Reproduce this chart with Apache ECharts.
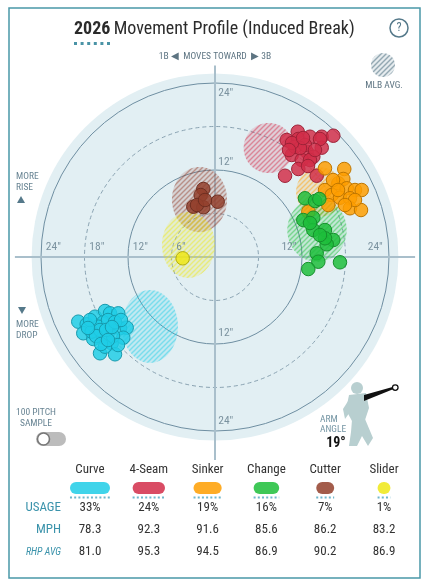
<!DOCTYPE html>
<html><head><meta charset="utf-8">
<script src="https://cdn.jsdelivr.net/npm/echarts@6/dist/echarts.min.js"></script>
<style>html,body{margin:0;padding:0;background:#fff}#c{width:433px;height:588px}</style>
</head><body><div id="c"></div>
<script>
// ---------- data ----------
const pitchTypes = ['Curve', '4-Seam', 'Sinker', 'Change', 'Cutter', 'Slider'];
const pitchColors = ['#1fcde6', '#d22d49', '#fe9d00', '#1dbe3a', '#933f2c', '#eee716'];
const usagePct = [33, 24, 19, 16, 7, 1];
const mphValues = ['78.3', '92.3', '91.6', '85.6', '86.2', '83.2'];
const rhpAvgValues = ['81.0', '95.3', '94.5', '86.9', '90.2', '86.9'];
const armAngle = 19;

// horizontal break (in), induced vertical break (in)
const curveBreak = [[-18.86,-8.92],[-17.70,-9.28],[-18.17,-10.52],[-16.55,-8.23],[-15.17,-7.45],[-14.48,-7.77],[-13.34,-7.77],[-15.41,-9.01],[-16.10,-9.61],[-14.48,-10.07],[-13.10,-9.83],[-12.18,-9.75],[-16.79,-11.31],[-15.41,-11.13],[-14.25,-11.90],[-12.65,-11.13],[-15.86,-13.28],[-13.79,-13.42],[-15.17,-12.37],[-17.01,-10.30],[-15.86,-10.07],[-14.76,-8.69],[-14.07,-10.90],[-16.41,-10.90],[-15.03,-10.07],[-13.79,-8.97],[-17.24,-8.69],[-15.72,-12.00],[-13.38,-12.14],[-14.76,-11.45],[-17.52,-9.79],[-12.97,-8.69],[-14.21,-9.66]];
const fourSeamBreak = [[9.89,16.14],[11.41,17.28],[11.49,16.28],[13.10,16.59],[14.72,16.59],[16.32,16.73],[14.72,15.08],[10.58,14.07],[12.65,14.52],[13.56,13.83],[11.96,13.38],[11.49,12.14],[9.66,11.21],[14.03,11.21],[11.03,15.21],[14.48,16.28],[12.41,15.45],[13.10,13.38],[11.72,15.03],[10.62,15.72],[12.14,16.41],[13.79,14.76],[10.21,14.76],[12.83,12.55]];
const sinkerBreak = [[15.17,12.23],[17.83,12.14],[17.01,10.17],[17.70,10.76],[18.17,9.48],[19.31,9.24],[20.23,9.24],[15.17,9.24],[16.10,8.55],[17.24,8.18],[18.62,8.10],[15.63,7.17],[18.62,6.72],[20.14,6.48],[12.87,6.25],[16.28,10.62],[19.31,7.86],[17.93,7.17],[16.97,9.24]];
const changeBreak = [[12.41,8.10],[13.79,7.72],[14.39,8.00],[12.18,5.10],[13.56,5.42],[13.56,3.72],[15.17,3.72],[16.32,2.34],[15.41,1.75],[15.17,2.58],[14.03,0.51],[14.25,-0.65],[17.24,-0.73],[12.87,-1.66],[14.48,3.03],[13.10,4.69]];
const cutterBreak = [[-1.61,9.38],[-1.97,8.55],[-2.99,6.94],[-1.61,6.86],[0.37,7.63],[-2.48,7.17],[-1.38,7.86]];
const sliderBreak = [[-4.46,-0.18]];
const pitchBreaks = [curveBreak, fourSeamBreak, sinkerBreak, changeBreak, cutterBreak, sliderBreak];

// MLB average movement per pitch type: [centerX, centerY, spreadX, spreadY] in inches
const mlbAvgCurve = [-8.97, -9.59, 3.86, 5.03];
const mlbAvgFourSeam = [7.40, 15.03, 3.45, 3.45];
const mlbAvgSinker = [14.48, 8.97, 3.30, 3.40];
const mlbAvgChange = [14.07, 3.72, 4.10, 4.40];
const mlbAvgCutter = [-2.14, 7.93, 3.80, 4.50];
const mlbAvgSlider = [-3.66, 1.66, 3.66, 4.55];
const mlbAvg = [mlbAvgCurve, mlbAvgFourSeam, mlbAvgSinker, mlbAvgChange, mlbAvgCutter, mlbAvgSlider];

const ringInches = [6, 12, 18, 24];
const horizTickValues = [-24, -18, -12, -6, 12, 24];
const horizTickText = ['24"', '18"', '12"', '6"', '12"', '24"'];
const vertTickValues = [24, 12, -12, -24];
const vertTickText = ['24"', '12"', '12"', '24"'];

// ---------- helpers ----------
const FONT = '"Liberation Sans Narrow","Roboto Condensed",Roboto,sans-serif';
function rgba(hex, a) {
  const n = parseInt(hex.slice(1), 16);
  return 'rgba(' + (n >> 16) + ',' + ((n >> 8) & 255) + ',' + (n & 255) + ',' + a + ')';
}
function shade(hex, f) {
  const n = parseInt(hex.slice(1), 16);
  const r = Math.round((n >> 16) * f), g = Math.round(((n >> 8) & 255) * f), b = Math.round((n & 255) * f);
  return 'rgb(' + r + ',' + g + ',' + b + ')';
}
function hatch(stripe, bg) {
  const s = 5;
  const c = document.createElement('canvas');
  c.width = s; c.height = s;
  const g = c.getContext('2d');
  g.fillStyle = bg; g.fillRect(0, 0, s, s);
  g.strokeStyle = stripe; g.lineWidth = 1.4;
  g.beginPath();
  g.moveTo(0, s); g.lineTo(s, 0);
  g.moveTo(-1, 1); g.lineTo(1, -1);
  g.moveTo(s - 1, s + 1); g.lineTo(s + 1, s - 1);
  g.stroke();
  return { image: c, repeat: 'repeat' };
}
const patterns = pitchColors.map(c => hatch(rgba(c, 0.45), rgba(c, 0.16)));
const grayPattern = hatch('rgba(120,145,158,0.75)', 'rgba(170,190,200,0.3)');

// ---------- series ----------
const series = [];
series.push({
  type: 'custom', silent: true, z: 0, data: [[0, 0, 25.3]],
  renderItem: (p, api) => {
    const c = api.coord([0, 0]);
    const r = api.size([api.value(2), 0])[0];
    return { type: 'circle', shape: { cx: c[0], cy: c[1], r: r }, style: { fill: '#e2eff3' } };
  }
});
series.push({
  type: 'custom', silent: true, z: 1,
  data: ringInches.map(r => [0, 0, r, r % 12 ? 1 : 0]),
  renderItem: (p, api) => {
    const c = api.coord([0, 0]);
    const r = api.size([api.value(2), 0])[0];
    const dashed = api.value(3) === 1;
    return { type: 'circle', shape: { cx: c[0], cy: c[1], r: r },
      style: { fill: 'none', stroke: dashed ? '#8aa3b2' : '#6f8fa2', lineWidth: 1, lineDash: dashed ? [4, 3] : null } };
  }
});
series.push({ type: 'line', silent: true, z: 2, symbol: 'none', data: [[-27.6, 0], [27.6, 0]], lineStyle: { color: '#a9bfcb', width: 2 } });
series.push({ type: 'line', silent: true, z: 2, symbol: 'none', data: [[0, 26.4], [0, -28]], lineStyle: { color: '#a9bfcb', width: 2 } });
series.push({
  type: 'custom', silent: true, z: 3,
  data: mlbAvg.map((m, i) => m.concat([i])),
  renderItem: (p, api) => {
    const cx = api.value(0), cy = api.value(1), rx = api.value(2), ry = api.value(3), k = api.value(4);
    const pts = [];
    for (let a = 0; a < 72; a++) {
      const t = a / 72 * Math.PI * 2;
      pts.push(api.coord([cx + rx * Math.cos(t), cy + ry * Math.sin(t)]));
    }
    return { type: 'polygon', shape: { points: pts }, style: { fill: patterns[k] } };
  }
});
pitchTypes.forEach((name, i) => {
  series.push({
    type: 'scatter', name: name, z: 4, data: pitchBreaks[i], symbolSize: 13.5,
    itemStyle: { color: rgba(pitchColors[i], 0.84), borderColor: shade(pitchColors[i], 0.75), borderWidth: 1, opacity: 1 }
  });
});
const tickLabelStyle = { show: true, color: '#607b8a', fontSize: 11.5, fontFamily: FONT };
const hOffsets = [1.7, 1.7, 1.7, 1.3, -1.8, -1.9];
series.push({
  type: 'scatter', silent: true, z: 5, symbolSize: 1, itemStyle: { color: 'rgba(0,0,0,0)' },
  data: horizTickValues.map((v, i) => [v + hOffsets[i], 1.3, horizTickText[i]]),
  label: Object.assign({ position: 'inside', formatter: p => p.value[2], align: 'center', verticalAlign: 'middle' }, tickLabelStyle)
});
const vOffsets = [-1.4, 1.1, 1.5, 1.4];
series.push({
  type: 'scatter', silent: true, z: 5, symbolSize: 1, itemStyle: { color: 'rgba(0,0,0,0)' },
  data: vertTickValues.map((v, i) => [0.45, v + vOffsets[i], vertTickText[i]]),
  label: Object.assign({ position: 'inside', formatter: p => p.value[2], align: 'left', verticalAlign: 'middle' }, tickLabelStyle)
});

// ---------- graphic (frame, titles, table) ----------
const g = [];
g.push({ type: 'rect', z: -10, shape: { x: 9, y: 8, width: 411, height: 570 }, style: { fill: '#fff', stroke: '#4a98a8', lineWidth: 1.5 } });
g.push({ type: 'text', x: 74, y: 29, style: {
  text: '{b|2026} {n|Movement Profile (Induced Break)}', verticalAlign: 'middle',
  rich: { b: { fontFamily: FONT, fontSize: 18, fontWeight: 'bold', fill: '#2b2b2b' }, n: { fontFamily: FONT, fontSize: 18, fill: '#2b2b2b' } } } });
for (let k = 0; k < 6; k++) g.push({ type: 'rect', shape: { x: 74 + k * 6.6, y: 42, width: 3, height: 3 }, style: { fill: '#4a93a6' } });
g.push({ type: 'circle', shape: { cx: 399, cy: 28, r: 9 }, style: { fill: '#fff', stroke: '#55798a', lineWidth: 1.5 } });
g.push({ type: 'text', x: 399, y: 28, style: { text: '?', fontFamily: FONT, fontSize: 12, fill: '#55798a', align: 'center', verticalAlign: 'middle' } });
g.push({ type: 'text', x: 215, y: 57, style: { text: '1B \u25C0  MOVES TOWARD  \u25B6 3B', fontFamily: FONT, fontSize: 9.5, fill: '#5d7482', align: 'center', verticalAlign: 'middle' } });
g.push({ type: 'circle', shape: { cx: 383, cy: 65, r: 12 }, style: { fill: grayPattern } });
g.push({ type: 'text', x: 384, y: 86, style: { text: 'MLB AVG.', fontFamily: FONT, fontSize: 9.5, fill: '#5d7482', align: 'center', verticalAlign: 'middle' } });
const sideStyle = { fontFamily: FONT, fontSize: 9.5, fill: '#688493', verticalAlign: 'middle', lineHeight: 10.5 };
g.push({ type: 'text', x: 16, y: 182, style: Object.assign({ text: 'MORE\nRISE' }, sideStyle) });
g.push({ type: 'polygon', shape: { points: [[17, 203], [25, 203], [21, 196]] }, style: { fill: '#55798a' } });
g.push({ type: 'polygon', shape: { points: [[18, 307], [26, 307], [22, 314]] }, style: { fill: '#55798a' } });
g.push({ type: 'text', x: 16, y: 330, style: Object.assign({ text: 'MORE\nDROP' }, sideStyle) });
g.push({ type: 'text', x: 36, y: 418, style: Object.assign({ text: '100 PITCH\nSAMPLE', align: 'center' }, sideStyle) });
g.push({ type: 'rect', shape: { x: 36, y: 432, width: 30, height: 14, r: 7 }, style: { fill: '#bcbcbc' } });
g.push({ type: 'circle', shape: { cx: 43.5, cy: 439, r: 6 }, style: { fill: '#fff', stroke: '#777', lineWidth: 1.6 } });
const fig = '#b8cfd0';
g.push({ type: 'circle', shape: { cx: 357, cy: 388, r: 6 }, style: { fill: fig } });
g.push({ type: 'polygon', shape: { points: [[349, 395], [366, 393], [369, 408], [365, 420], [352, 421], [346, 410]] }, style: { fill: fig } });
g.push({ type: 'polygon', shape: { points: [[352, 420], [365, 419], [373, 438], [368, 446], [362, 436], [357, 446], [349, 446], [351, 432]] }, style: { fill: fig } });
g.push({ type: 'polygon', shape: { points: [[350, 398], [343, 409], [345, 419], [350, 412]] }, style: { fill: fig } });
const shX = 364, shY = 398, armLen = 32, rad = armAngle * Math.PI / 180;
const exA = shX + armLen * Math.cos(rad), eyA = shY - armLen * Math.sin(rad);
g.push({ type: 'polygon', shape: { points: [[shX, shY - 3], [exA, eyA - 1.2], [exA, eyA + 1.2], [shX, shY + 3]] }, style: { fill: '#111' } });
g.push({ type: 'circle', shape: { cx: exA + 1, cy: eyA, r: 2.8 }, style: { fill: '#fff', stroke: '#111', lineWidth: 1.3 } });
g.push({ type: 'text', x: 320, y: 425, style: { text: 'ARM\nANGLE', fontFamily: FONT, fontSize: 9.5, fill: '#7394a3', verticalAlign: 'middle', lineHeight: 10 } });
g.push({ type: 'text', x: 336, y: 443, style: { text: armAngle + '\u00B0', fontFamily: FONT, fontSize: 14, fontWeight: 'bold', fill: '#111', align: 'center', verticalAlign: 'middle' } });
const colX = pitchTypes.map((_, i) => 90 + i * 58.8);
const cellStyle = { fontFamily: FONT, fontSize: 13, fill: '#333', align: 'center', verticalAlign: 'middle' };
pitchTypes.forEach((name, i) => {
  const cx = colX[i];
  const w = 12 + usagePct[i] * 0.85;
  g.push({ type: 'text', x: cx, y: 470, style: Object.assign({ text: name }, cellStyle) });
  g.push({ type: 'rect', shape: { x: cx - w / 2, y: 482, width: w, height: 12, r: 6 }, style: { fill: pitchColors[i], opacity: 0.85 } });
  g.push({ type: 'line', shape: { x1: cx - w / 2, y1: 497.5, x2: cx + w / 2, y2: 497.5 }, style: { stroke: '#6fb6cb', lineWidth: 2, lineDash: [2, 2.2] } });
  g.push({ type: 'text', x: cx, y: 508, style: Object.assign({ text: usagePct[i] + '%' }, cellStyle) });
  g.push({ type: 'text', x: cx, y: 530, style: Object.assign({ text: mphValues[i] }, cellStyle) });
  g.push({ type: 'text', x: cx, y: 552, style: Object.assign({ text: rhpAvgValues[i] }, cellStyle) });
});
const rowStyle = { fontFamily: FONT, fontSize: 13, fill: '#3b93ab', align: 'right', verticalAlign: 'middle' };
g.push({ type: 'text', x: 61, y: 508, style: Object.assign({ text: 'USAGE' }, rowStyle) });
g.push({ type: 'text', x: 61, y: 530, style: Object.assign({ text: 'MPH' }, rowStyle) });
g.push({ type: 'text', x: 61, y: 552, style: Object.assign({}, rowStyle, { text: 'RHP AVG', fontSize: 10, fontStyle: 'italic' }) });

const chart = echarts.init(document.getElementById('c'), null, { renderer: 'canvas' });
chart.setOption({
  animation: false,
  backgroundColor: '#fff',
  grid: { left: 12, top: 54, width: 406, height: 406, containLabel: false, outerBoundsMode: 'none' },
  xAxis: { type: 'value', min: -28, max: 28, show: false },
  yAxis: { type: 'value', min: -28, max: 28, show: false },
  tooltip: { show: false },
  graphic: g,
  series: series
});
</script></body></html>
